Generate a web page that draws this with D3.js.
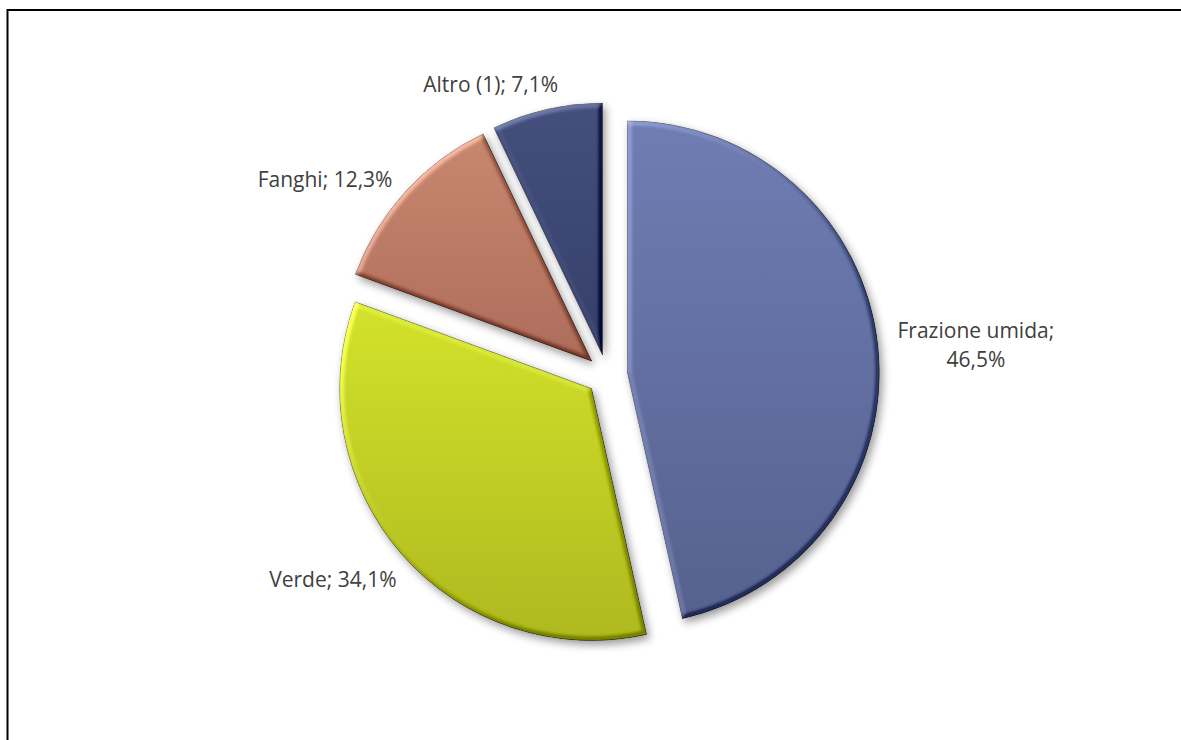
<!DOCTYPE html>
<html>
<head>
<meta charset="utf-8">
<script src="https://cdn.jsdelivr.net/npm/d3@7"></script>
<style>
  html, body { margin: 0; padding: 0; background: #fff; overflow: hidden; }
  svg { display: block; }
</style>
</head>
<body>
<svg id="chart" width="1181" height="740"></svg>
<script>
// ---- data ----
const categories = ["Frazione umida", "Verde", "Fanghi", "Altro (1)"];
const values = [46.5, 34.1, 12.3, 7.1];
const topColors = ["#6f7db3", "#d3e22b", "#c7876f", "#454f7d"];
const bottomColors = ["#56618e", "#aeb91f", "#ad6d5b", "#353f69"];

// ---- layout ----
const W = 1181, H = 740;
const cx = 607, cy = 375;
const radius = 252;
const explode = 20.5;
// label nudges relative to the outer-arc midpoint of each slice
const labelNudge = [
  { dx: 98, dy: -7, anchor: "middle", split: true },
  { dx: -5.5, dy: 32, anchor: "end", split: false },
  { dx: -13, dy: -5, anchor: "end", split: false },
  { dx: -56, dy: -17, anchor: "middle", split: false }
];

const svg = d3.select("#chart");
const locale = d3.formatLocale({ decimal: ",", thousands: ".", grouping: [3], currency: ["", "€"] });
const fmt = locale.format(".1f");

const defs = svg.append("defs");
categories.forEach((c, i) => {
  const g = defs.append("linearGradient")
    .attr("id", "grad" + i)
    .attr("gradientUnits", "objectBoundingBox")
    .attr("x1", 0).attr("y1", 0).attr("x2", 0).attr("y2", 1);
  g.append("stop").attr("offset", "0%").attr("stop-color", topColors[i]);
  g.append("stop").attr("offset", "100%").attr("stop-color", bottomColors[i]);
});

const f = defs.append("filter")
  .attr("id", "bevel")
  .attr("x", "-15%").attr("y", "-15%").attr("width", "135%").attr("height", "135%")
  .attr("color-interpolation-filters", "sRGB");
f.append("feGaussianBlur").attr("in", "SourceAlpha").attr("stdDeviation", 2.5).attr("result", "b");
const dl = f.append("feDiffuseLighting").attr("in", "b").attr("surfaceScale", 5)
  .attr("diffuseConstant", 1).attr("lighting-color", "#ffffff").attr("result", "light");
dl.append("feDistantLight").attr("azimuth", 225).attr("elevation", 30);
f.append("feComposite").attr("in", "SourceGraphic").attr("in2", "light")
  .attr("operator", "arithmetic").attr("k1", 0).attr("k2", 1).attr("k3", 0.42).attr("k4", -0.21)
  .attr("result", "lit");
f.append("feComposite").attr("in", "lit").attr("in2", "SourceAlpha").attr("operator", "in").attr("result", "litIn");
f.append("feGaussianBlur").attr("in", "SourceAlpha").attr("stdDeviation", 4).attr("result", "sb");
f.append("feOffset").attr("in", "sb").attr("dx", 3).attr("dy", 4).attr("result", "so");
const ct = f.append("feComponentTransfer").attr("in", "so").attr("result", "sh");
ct.append("feFuncA").attr("type", "linear").attr("slope", 0.4);
const fm = f.append("feMerge");
fm.append("feMergeNode").attr("in", "sh");
fm.append("feMergeNode").attr("in", "litIn");

// border
svg.append("rect")
  .attr("x", 7.5).attr("y", 10)
  .attr("width", 1300).attr("height", 900)
  .attr("fill", "none").attr("stroke", "#000").attr("stroke-width", 2);

const pie = d3.pie().sort(null).value(d => d)
  .startAngle(0).endAngle(2 * Math.PI);
const arcs = pie(values);
const arc = d3.arc().innerRadius(0).outerRadius(radius);

const g = svg.append("g").attr("transform", `translate(${cx},${cy})`);

arcs.forEach((a, i) => {
  const mid = (a.startAngle + a.endAngle) / 2;
  const ox = explode * Math.sin(mid), oy = -explode * Math.cos(mid);
  const sg = g.append("g").attr("transform", `translate(${ox},${oy})`);
  sg.append("path")
    .attr("d", arc(a))
    .attr("fill", `url(#grad${i})`)
    .attr("stroke", "#3c3c3c")
    .attr("stroke-opacity", 0.6)
    .attr("stroke-width", 0.8)
    .attr("stroke-linejoin", "round")
    .attr("filter", "url(#bevel)");

  // label
  const px = ox + radius * Math.sin(mid);
  const py = oy - radius * Math.cos(mid);
  const n = labelNudge[i];
  const t = g.append("text")
    .attr("x", px + n.dx).attr("y", py + n.dy)
    .attr("text-anchor", n.anchor)
    .attr("font-family", "'Open Sans', sans-serif")
    .attr("font-size", "21px")
    .attr("fill", "#404040");
  const txt1 = categories[i] + ";";
  const txt2 = fmt(values[i]) + "%";
  if (n.split) {
    t.append("tspan").attr("x", px + n.dx).attr("dy", 0).text(txt1);
    t.append("tspan").attr("x", px + n.dx).attr("dy", 29).text(txt2);
  } else {
    t.text(txt1 + " " + txt2);
  }
});
</script>
</body>
</html>
